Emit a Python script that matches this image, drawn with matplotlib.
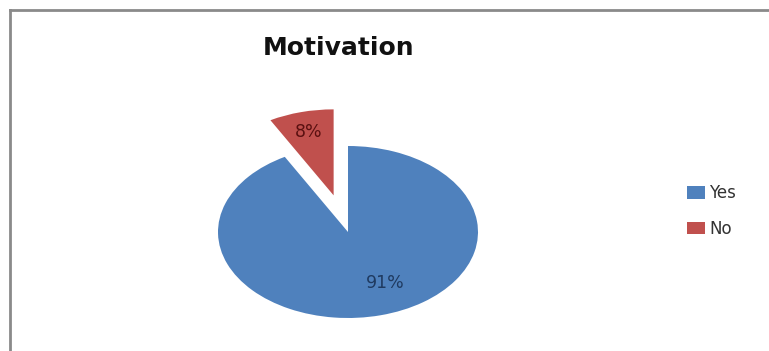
import numpy as np
import matplotlib.pyplot as plt
from matplotlib.lines import Line2D
from matplotlib.patches import Patch

# Survey answers
categories = ["Yes", "No"]
values = [91, 8]
colors = ["#4F81BD", "#C0504D"]
label_colors = ["#1F3A60", "#5A1010"]

W, H = 769, 351
fig = plt.figure(figsize=(W / 100, H / 100), dpi=100)
fig.patch.set_facecolor("white")

# chart frame (left and top edges only, the rest is cropped)
x0, y0 = 10 / W, 1 - 10 / H
fig.add_artist(Line2D([x0, x0], [0, y0], transform=fig.transFigure,
                      color="#8a8a8a", lw=2))
fig.add_artist(Line2D([x0, 1], [y0, y0], transform=fig.transFigure,
                      color="#8a8a8a", lw=2))

# pie area: stretched ellipse, 260 px wide and 172 px tall
cx, cy, rx, ry = 348, 232, 130, 86
ax = fig.add_axes([(cx - rx * 1.6) / W, (H - cy - ry * 1.6) / H,
                   rx * 3.2 / W, ry * 3.2 / H])

wedges, _ = ax.pie(values, colors=colors, startangle=90, counterclock=False,
                   explode=[0, 0.44], wedgeprops=dict(linewidth=0))
ax.set_xlim(-1.6, 1.6)
ax.set_ylim(-1.6, 1.6)
ax.set_aspect("auto")

label_r = [0.66, 0.76]
label_shift = [11, 0]
for w, v, col, r, sh in zip(wedges, values, label_colors, label_r, label_shift):
    mid = np.deg2rad((w.theta1 + w.theta2) / 2 + sh)
    ox, oy = w.center
    ax.text(ox + r * np.cos(mid), oy + r * np.sin(mid), f"{v}%",
            ha="center", va="center", fontsize=12.5, color=col,
            family="DejaVu Sans")

fig.text(339 / W, 1 - 48 / H, "Motivation", ha="center", va="center",
         fontsize=18, fontweight="bold", family="DejaVu Sans", color="#111111")

handles = [Patch(facecolor=c, edgecolor="none") for c in colors]
fig.legend(handles, categories, loc="center left",
           bbox_to_anchor=(672 / W, 1 - 211 / H), frameon=False,
           handlelength=1.1, handleheight=0.75, handletextpad=0.25,
           labelspacing=1.05, prop=dict(family="DejaVu Sans", size=12),
           labelcolor="#333333")

fig.savefig("out.png", dpi=100)
